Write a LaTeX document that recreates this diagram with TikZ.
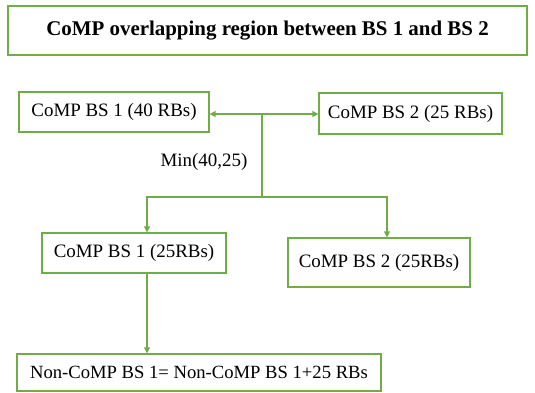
\documentclass[tikz,border=0pt]{standalone}
\usepackage{fontspec}
\setmainfont{Liberation Serif}
\usetikzlibrary{arrows.meta}
\definecolor{gr}{RGB}{112,173,71}
\tikzset{
  box/.style={draw=gr, line width=1.3pt, inner sep=0pt, font=\fontsize{19}{21}\selectfont},
  con/.style={draw=gr, line width=1.3pt},
  tip/.style={-{Triangle[length=6pt,width=6pt]}}
}
\begin{document}
\begin{tikzpicture}[x=1bp,y=-1bp]
\useasboundingbox (0,0) rectangle (535,392);
\node[box, minimum width=519bp, minimum height=49bp, font=\fontsize{21}{24}\selectfont\bfseries] (title) at (267.5,30.5) {CoMP overlapping region between BS 1 and BS 2};
\node[box, minimum width=190bp, minimum height=40bp] (a) at (114,112) {CoMP BS 1 (40 RBs)};
\node[box, minimum width=183bp, minimum height=41bp] (b) at (410.5,113.5) {CoMP BS 2 (25 RBs)};
\node[box, minimum width=184bp, minimum height=40bp] (c) at (134,253) {CoMP BS 1 (25RBs)};
\node[box, minimum width=182bp, minimum height=49bp] (d) at (379,262.5) {CoMP BS 2 (25RBs)};
\node[box, minimum width=364bp, minimum height=37bp, font=\fontsize{18.7}{21}\selectfont] (e) at (199,372.5) {Non-CoMP BS 1= Non-CoMP BS 1+25 RBs};
\coordinate (m) at (262,114);
\coordinate (j) at (262,197);
\coordinate (cx) at (147,0);
\coordinate (dx) at (387,0);
\node[font=\fontsize{19}{21}\selectfont] (lab) at (204,162) {Min(40,25)};
\draw[con, tip] (m) -- (a.east |- m);
\draw[con, tip] (m) -- (b.west |- m);
\draw[con] (m) -- (j);
\draw[con, tip] (j) -| (cx |- c.north);
\draw[con, tip] (j) -| (dx |- d.north);
\draw[con, tip] (cx |- c.south) -- (cx |- e.north);
\end{tikzpicture}
\end{document}
